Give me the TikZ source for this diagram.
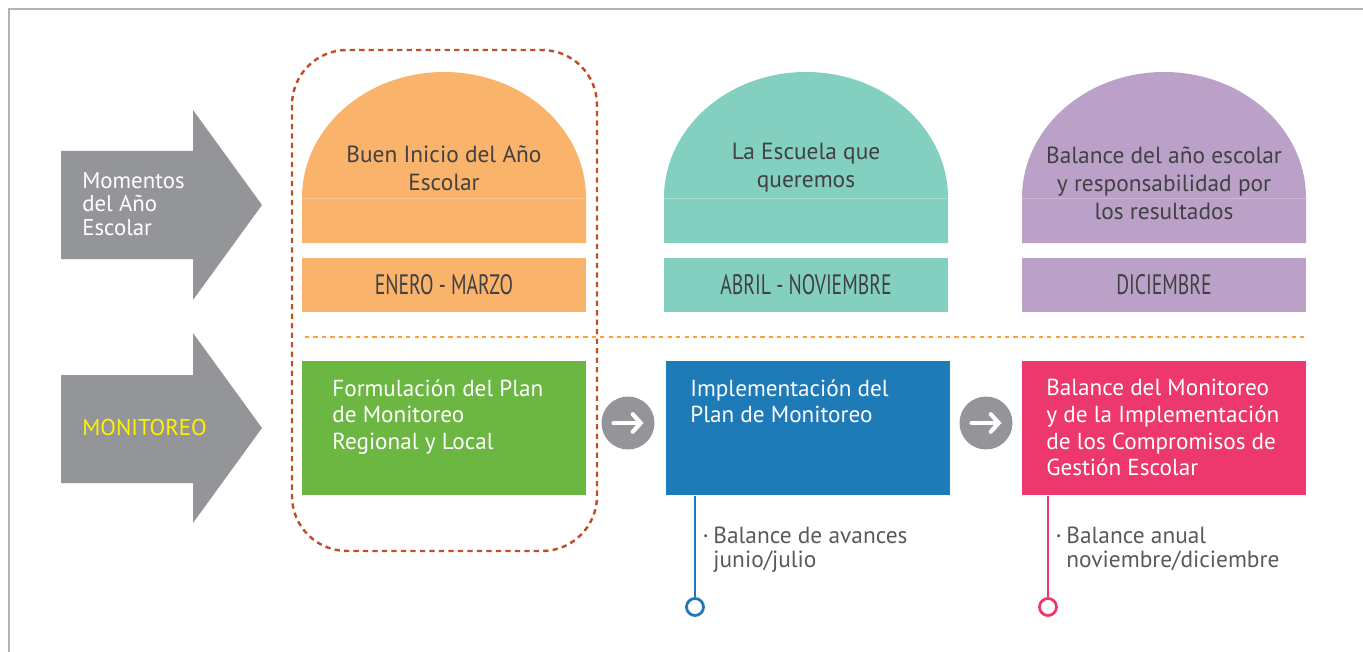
\documentclass[tikz,border=0pt]{standalone}
\usepackage{fontspec}
\setmainfont{PT Sans}
\usetikzlibrary{positioning,arrows.meta}
\definecolor{naranja}{HTML}{F9B36A}
\definecolor{turquesa}{HTML}{83CFC0}
\definecolor{lila}{HTML}{BBA1C8}
\definecolor{verde}{HTML}{6CB642}
\definecolor{azul}{HTML}{1E7BB8}
\definecolor{rosa}{HTML}{EC386C}
\definecolor{gris}{HTML}{939598}
\definecolor{textgris}{HTML}{414042}
\definecolor{notagris}{HTML}{58595B}
\definecolor{rojo}{HTML}{C24E25}
\definecolor{anaranjado}{HTML}{F8A23A}
\definecolor{amarillo}{HTML}{FFF200}
\definecolor{marco}{HTML}{B3B3B3}
\tikzstyle{domelabel}=[align=center,text=textgris,inner sep=0pt,font=\fontsize{13.3}{16}\selectfont]
\tikzstyle{month}=[minimum width=5.68cm,minimum height=1.08cm,inner sep=0pt,text=textgris]
\tikzstyle{box}=[minimum width=5.68cm,minimum height=2.7cm,inner sep=0pt]
\tikzstyle{boxtext}=[anchor=north west,align=left,text=white,inner sep=0pt,font=\fontsize{13.2}{15.2}\selectfont]
\tikzstyle{note}=[anchor=north west,inner sep=0pt,text=notagris,font=\fontsize{13.3}{13.8}\selectfont]
\tikzstyle{go}=[circle,fill=gris,minimum size=1.06cm,inner sep=0pt]
\tikzstyle{goarrow}=[white,line width=2.4pt,line cap=round,-{Straight Barb[length=4.5pt,width=10pt,line cap=round]}]
\tikzstyle{ring}=[circle,draw,line width=1.6pt,fill=white,minimum size=0.34cm,inner sep=0pt]
\newcommand{\newDome}[2]{\fill[#2] (#1-142,198) arc[start angle=180,end angle=360,x radius=142,y radius=126] -- (#1+142,243) -- (#1-142,243) -- cycle;
  \draw[#2!75!white,line width=0.4pt] (#1-142,198) -- (#1+142,198);}
\newcommand{\newMonth}[4]{\node[month,fill=#3](#1) at (#2,285) {\scalebox{0.7}[1]{\fontsize{16}{19}\selectfont #4}};}
\newcommand{\newNote}[4]{\node[note](#1) at (#2,#3) {\begin{tabular}{@{}l@{\hspace{3pt}}l@{}}\raisebox{0.35ex}{\fontsize{6}{6}\selectfont\textbullet} & #4\end{tabular}};}

\begin{document}
\begin{tikzpicture}[x=0.02cm,y=-0.02cm]
    \useasboundingbox (0,0) rectangle (1363,652);
    \draw[marco,line width=1.2pt] (9,652) -- (9,9) -- (1363,9);
    % arrows on the left
    \fill[gris] (61,151) -- (193,151) -- (193,110) -- (262,205) -- (193,300) -- (193,259) -- (61,259) -- cycle;
    \fill[gris] (61,375) -- (193,375) -- (193,333) -- (262,428) -- (193,523) -- (193,483) -- (61,483) -- cycle;
    \node[anchor=west,align=left,text=white,inner sep=0pt,font=\fontsize{13}{13.4}\selectfont] (momentos) at (82,204) {Momentos\\del Año\\Escolar};
    \node[anchor=west,text=amarillo,inner sep=0pt,font=\fontsize{13}{15}\selectfont] (monitoreo) at (82,428) {MONITOREO};
    % momentos
    \newDome{444}{naranja}
    \newDome{806}{turquesa}
    \newDome{1164}{lila}
    \node[domelabel] (buen) at (444,168) {Buen Inicio del Año\\Escolar};
    \node[domelabel] (escuela) at (806,168) {La Escuela que\\queremos};
    \node[domelabel] (balance) at (1164,183) {Balance del año escolar\\y responsabilidad por\\los resultados};
    \newMonth{enero}{444}{naranja}{ENERO - MARZO}
    \newMonth{abril}{806}{turquesa}{ABRIL - NOVIEMBRE}
    \newMonth{diciembre}{1164}{lila}{DICIEMBRE}
    \draw[anaranjado,line width=1.2pt,dash pattern=on 2.4pt off 2.4pt] (305,337) -- (1305,337);
    % monitoreo
    \node[box,fill=verde] (plan) at (444,428) {};
    \node[box,fill=azul] (impl) at (808,428) {};
    \node[box,fill=rosa] (bal) at (1164,428) {};
    \node[boxtext] (plantxt) at (332,379) {Formulación del Plan\\de Monitoreo\\Regional y Local};
    \node[boxtext] (impltxt) at (690,379) {Implementación del\\Plan de Monitoreo};
    \node[boxtext] (baltxt) at (1046,379) {Balance del Monitoreo\\y de la Implementación\\de los Compromisos de\\Gestión Escolar};
    \node[go] (go1) at (628,423) {};
    \node[go] (go2) at (986,423) {};
    \draw[goarrow] ([xshift=-0.29cm]go1.center) -- ([xshift=0.31cm]go1.center);
    \draw[goarrow] ([xshift=-0.29cm]go2.center) -- ([xshift=0.31cm]go2.center);
    \node[ring,draw=azul] (ringA) at (695,607) {};
    \node[ring,draw=rosa] (ringB) at (1048,607) {};
    \draw[azul,line width=1.6pt] (ringA) -- (ringA |- impl.south);
    \draw[rosa,line width=1.6pt] (ringB) -- (ringB |- bal.south);
    \newNote{noteA}{703}{526}{Balance de avances\\ & junio/julio}
    \newNote{noteB}{1056}{526}{Balance anual\\ & noviembre/diciembre}
    \draw[rojo,line width=1.4pt,dash pattern=on 3pt off 2.4pt,rounded corners=1.1cm] (292,50) rectangle (597,551);
\end{tikzpicture}
\end{document}
